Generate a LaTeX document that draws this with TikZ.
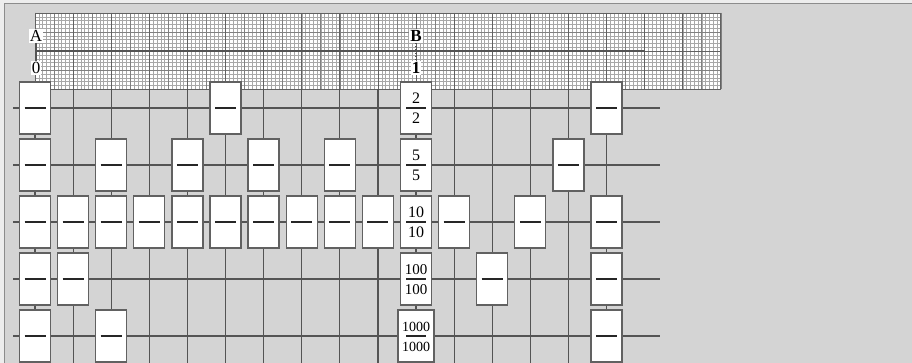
\documentclass[tikz,border=0pt]{standalone}
\usepackage{fontspec}
\setmainfont{Liberation Serif}
\definecolor{bgc}{gray}{0.83}
\definecolor{outc}{gray}{0.93}
\definecolor{framec}{gray}{0.55}
\definecolor{linec}{gray}{0.33}
\definecolor{boxc}{gray}{0.38}
\definecolor{dashc}{gray}{0.15}
\definecolor{finec}{gray}{0.66}
\definecolor{halfc}{gray}{0.5}
\definecolor{cmc}{gray}{0.38}
\tikzset{
  cell/.style={draw=boxc, line width=1.3pt, fill=white, minimum width=31pt, minimum height=52pt, inner sep=0pt},
  rowline/.style={draw=linec, line width=1.3pt},
  colline/.style={draw=linec, line width=1.2pt},
  lab/.style={font=\fontsize{17}{17}\selectfont, fill=white, inner sep=1.2pt},
  num/.style={inner sep=0pt},
  bar/.style={draw=dashc, line width=1.9pt},
  fineline/.style={draw=finec, line width=0.35pt},
  halfline/.style={draw=halfc, line width=0.55pt},
  cmline/.style={draw=cmc, line width=0.8pt},
}
\newcommand{\dashmk}{{\color{dashc}\rule[-1.3pt]{21pt}{2.6pt}}}
\begin{document}
\begin{tikzpicture}[x=1pt,y=-1pt]
\useasboundingbox (0,0) rectangle (912,363);
% backgrounds and frame
\fill[outc] (0,0) rectangle (912,363);
\fill[bgc] (4.5,3.5) rectangle (912,363);
\draw[framec, line width=1.5pt] (4.5,363) -- (4.5,3.5) -- (912,3.5);
% graph paper
\fill[white] (35,13) rectangle (720.8,89.2);
\foreach \i in {0,...,180} \draw[fineline] ({35+3.81*\i},13) -- ({35+3.81*\i},89.2);
\foreach \j in {0,...,20} \draw[fineline] (35,{13+3.81*\j}) -- (720.8,{13+3.81*\j});
\foreach \i in {0,...,36} \draw[halfline] ({35+19.05*\i},13) -- ({35+19.05*\i},89.2);
\foreach \j in {0,...,4} \draw[halfline] (35,{13+19.05*\j}) -- (720.8,{13+19.05*\j});
\foreach \i in {0,...,18} \draw[cmline] ({35+38.1*\i},13) -- ({35+38.1*\i},89.2);
\foreach \j in {0,1,2} \draw[cmline] (35,{13+38.1*\j}) -- (720.8,{13+38.1*\j});
% A-B line
\coordinate (ab0) at (35,51.1);
\coordinate (ab1) at (644.6,51.1);
\draw[linec, line width=1.5pt] (ab0) -- (ab1);
% column coordinates and lines
\foreach \k in {0,...,15} {
  \coordinate (vt\k) at ({35+38.1*\k},89.2);
  \coordinate (vb\k) at ({35+38.1*\k},363);
  \draw[colline] (vt\k) -- (vb\k);
}
% row coordinates and lines
\foreach \r/\y in {1/108,2/165,3/222,4/279,5/336} {
  \coordinate (hl\r) at (13,\y);
  \coordinate (hr\r) at (660,\y);
  \draw[rowline] (hl\r) -- (hr\r);
}
% labels
\node[lab] (A) at (36,36) {A};
\node[lab] (zero) at (36,68) {0};
\node[lab, font=\fontsize{17}{17}\selectfont\bfseries] (B) at (416,36) {B};
\node[lab, font=\fontsize{17}{17}\selectfont\bfseries] (one) at (416,68) {1};
\draw[linec, line width=1.5pt] (A.south) -- (zero.north);
\draw[linec, line width=1.2pt, dotted] (B.south) -- (one.north);
% boxes with dashes
\foreach \r/\y/\ks in {1/108/{0,5,15}, 2/165/{0,2,4,6,8,14}, 3/222/{0,1,2,3,4,5,6,7,8,9,11,13,15}, 4/279/{0,1,12,15}, 5/336/{0,2,15}} {
  \foreach \k in \ks {
    \node[cell] (c\r-\k) at ({35+38.1*\k},\y) {\dashmk};
  }
}
% fraction boxes
\foreach \r/\y/\n/\w/\fs in {1/108/2/31/16, 2/165/5/31/16, 3/222/10/31/16, 4/279/100/31/15, 5/336/1000/36/14} {
  \node[cell, minimum width=\w pt] (f\r) at (416,\y) {};
  \node[num, font=\fontsize{\fs}{\fs}\selectfont] (fn\r) at (416,{\y-9.5}) {\n};
  \node[num, font=\fontsize{\fs}{\fs}\selectfont] (fd\r) at (416,{\y+10.5}) {\n};
  \draw[bar] ([xshift=-10pt]f\r.center) -- ([xshift=10pt]f\r.center);
}
\end{tikzpicture}
\end{document}
